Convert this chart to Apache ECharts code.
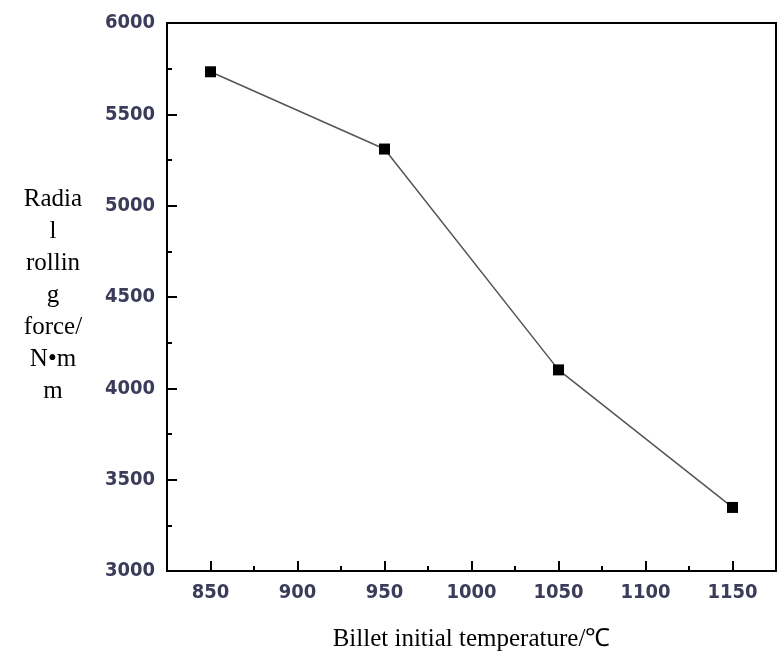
<!DOCTYPE html>
<html>
<head>
<meta charset="utf-8">
<script src="https://cdn.jsdelivr.net/npm/echarts@6/dist/echarts.min.js"></script>
<style>
html,body{margin:0;padding:0;background:#fff;}
#chart{width:778px;height:657px;}
</style>
</head>
<body>
<div id="chart"></div>
<script>
// Data
var temperatures = [850, 950, 1050, 1150];
var radialForce = [5733, 5310, 4101, 3348];
var xMajorTicks = [850, 900, 950, 1000, 1050, 1100, 1150];
var xMinorTicks = [875, 925, 975, 1025, 1075, 1125];
var yAxisTitle = 'Radia\nl\nrollin\ng\nforce/\nN\u2022m\nm';
var xAxisTitle = 'Billet initial temperature/\u2103';

function plain(v) { return String(v); }

var tickFont = {
  fontFamily: '"DejaVu Sans Condensed","Arial Narrow",sans-serif',
  fontSize: 20,
  fontWeight: 'bold',
  color: '#3b3b5a',
  formatter: plain
};

var chart = echarts.init(document.getElementById('chart'));
chart.setOption({
  animation: false,
  backgroundColor: '#fff',
  grid: {
    left: 167, right: 2, top: 23, bottom: 83,
    show: true, borderColor: '#000', borderWidth: 2, containLabel: false
  },
  xAxis: [{
    type: 'value', min: 825, max: 1175, position: 'bottom',
    name: xAxisTitle, nameLocation: 'middle', nameGap: 56,
    nameTextStyle: {fontFamily: '"Liberation Serif","Times New Roman",serif', fontSize: 25, color: '#000'},
    axisLine: {show: true, onZero: false, lineStyle: {color: '#000', width: 2}},
    axisTick: {show: true, inside: true, length: 10, lineStyle: {color: '#000', width: 2}, customValues: xMajorTicks},
    axisLabel: Object.assign({margin: 12, customValues: xMajorTicks}, tickFont),
    splitLine: {show: false}
  }, {
    type: 'value', min: 825, max: 1175, position: 'bottom',
    axisLine: {show: false},
    axisTick: {show: true, inside: true, length: 5, lineStyle: {color: '#000', width: 2}, customValues: xMinorTicks},
    axisLabel: {show: false},
    splitLine: {show: false}
  }],
  yAxis: {
    type: 'value', min: 3000, max: 6000, interval: 500,
    axisLine: {show: true, onZero: false, lineStyle: {color: '#000', width: 2}},
    axisTick: {show: true, inside: true, length: 10, lineStyle: {color: '#000', width: 2}},
    minorTick: {show: true, splitNumber: 2, length: 5, lineStyle: {color: '#000', width: 2}},
    axisLabel: Object.assign({margin: 12}, tickFont),
    splitLine: {show: false}
  },
  graphic: [{
    type: 'text',
    left: 53 - 40, top: 183,
    style: {
      text: yAxisTitle,
      x: 40, y: 0,
      width: 80,
      align: 'center',
      textAlign: 'center',
      fontFamily: '"Liberation Serif","Times New Roman",serif',
      fontSize: 25,
      lineHeight: 32,
      fill: '#000'
    }
  }],
  series: [{
    type: 'line',
    xAxisIndex: 0,
    data: temperatures.map(function (t, i) { return [t, radialForce[i]]; }),
    symbol: 'rect',
    symbolSize: 11,
    itemStyle: {color: '#000'},
    lineStyle: {color: '#555', width: 1.5}
  }]
});
</script>
</body>
</html>
